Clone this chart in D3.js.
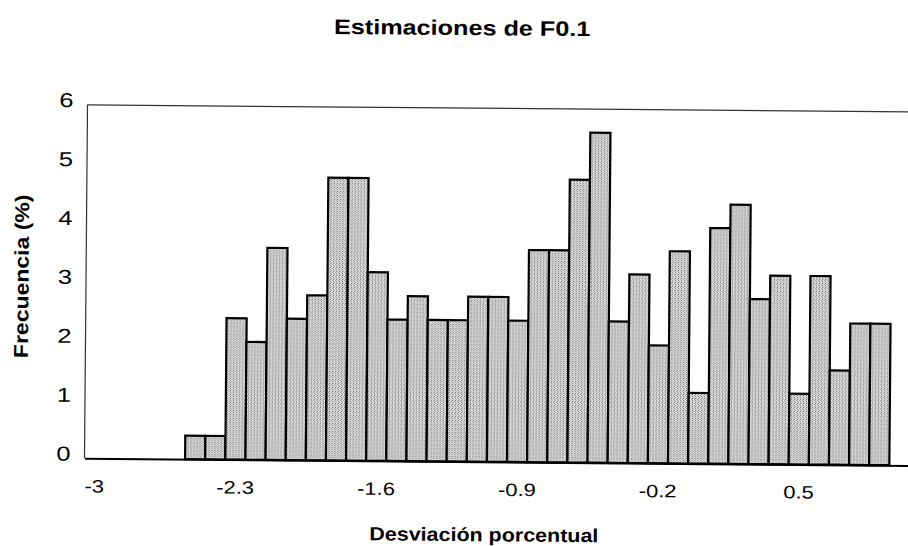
<!DOCTYPE html>
<html><head><meta charset="utf-8">
<script src="https://cdn.jsdelivr.net/npm/d3@7"></script>
<style>body{margin:0;background:#fff}svg{display:block}</style>
</head><body>
<svg id="chart" width="908" height="546"></svg>
<script>
const categories = ["-3","-2.9","-2.8","-2.7","-2.6","-2.5","-2.4","-2.3","-2.2","-2.1","-2","-1.9","-1.8","-1.7","-1.6","-1.5","-1.4","-1.3","-1.2","-1.1","-1","-0.9","-0.8","-0.7","-0.6","-0.5","-0.4","-0.3","-0.2","-0.1","0","0.1","0.2","0.3","0.4","0.5","0.6","0.7","0.8","0.9","1"];
const frequencies = [0,0,0,0,0,0.4,0.4,2.4,2.0,3.6,2.4,2.8,4.8,4.8,3.2,2.4,2.8,2.4,2.4,2.8,2.8,2.4,3.6,3.6,4.8,5.6,2.4,3.2,2.0,3.6,1.2,4.0,4.4,2.8,3.2,1.2,3.2,1.6,2.4,2.4,0];
const xTickLabels = ["-3","-2.3","-1.6","-0.9","-0.2","0.5"];
const yTickValues = [0,1,2,3,4,5,6];
const titleText = "Estimaciones de F0.1";
const xTitle = "Desviación porcentual";
const yTitle = "Frecuencia (%)";

(function () {
const root = d3.select("#chart");
// the scanned original is tilted by about half a degree
const svg = root.append("g").attr("transform", "rotate(0.49, 454, 283)");
const FONT = "'Liberation Sans', Arial, sans-serif";
const pLeft = 86, pRight = 911, pTop = 108, pBottom = 461.5;

const x = d3.scaleBand().domain(categories).range([pLeft, pRight]).padding(0);
const y = d3.scaleLinear().domain([0, 6]).range([pBottom, pTop]);

function stretch(sel, f) {
  sel.each(function () {
    const w = this.getComputedTextLength();
    d3.select(this).attr("textLength", w * f).attr("lengthAdjust", "spacingAndGlyphs");
  });
}

// stipple pattern
const defs = root.append("defs");
const pat = defs.append("pattern").attr("id", "stip").attr("patternUnits", "userSpaceOnUse")
  .attr("width", 3).attr("height", 4);
pat.append("rect").attr("width", 3).attr("height", 4).attr("fill", "#dedede");
[[0,0,"#6a6a6a"],[2,1,"#979797"],[0,2,"#858585"],[1,3,"#aaaaaa"]].forEach(([a,b,c]) =>
  pat.append("rect").attr("x", a).attr("y", b).attr("width", 1).attr("height", 1).attr("fill", c));

// frame lines
svg.append("line").attr("x1", pLeft).attr("x2", pRight).attr("y1", pTop).attr("y2", pTop)
  .attr("stroke", "#333").attr("stroke-width", 1.2);
svg.append("line").attr("x1", pLeft).attr("x2", pLeft).attr("y1", pTop).attr("y2", pBottom)
  .attr("stroke", "#333").attr("stroke-width", 1.2);

// bars
const data = categories.map((c, i) => ({ c, v: frequencies[i] })).filter(d => d.v > 0);
svg.append("g").selectAll("rect").data(data).join("rect")
  .attr("x", d => x(d.c))
  .attr("y", d => y(d.v))
  .attr("width", x.bandwidth())
  .attr("height", d => y(0) - y(d.v))
  .attr("fill", "url(#stip)")
  .attr("stroke", "#000")
  .attr("stroke-width", 2.2);

// x axis
const xAxis = svg.append("g").attr("transform", `translate(0,${pBottom})`)
  .call(d3.axisBottom(x).tickValues(xTickLabels).tickSize(0));
xAxis.select(".domain").attr("stroke", "#000").attr("stroke-width", 2);
xAxis.selectAll("text").attr("y", 34).attr("dy", 0)
  .attr("font-family", FONT).attr("font-size", 18).attr("fill", "#000");
stretch(xAxis.selectAll("text"), 1.22);

// y axis
const yAxis = svg.append("g").attr("transform", `translate(${pLeft},0)`)
  .call(d3.axisLeft(y).tickValues(yTickValues).tickFormat(d3.format("d")).tickSize(0));
yAxis.select(".domain").remove();
yAxis.selectAll("text").attr("x", -14).attr("dy", 2)
  .attr("font-family", FONT).attr("font-size", 20).attr("fill", "#000");
stretch(yAxis.selectAll("text"), 1.28);

// titles
const t = svg.append("text").attr("x", 460).attr("y", 35).attr("text-anchor", "middle")
  .attr("font-family", FONT).attr("font-weight", "bold").attr("font-size", 21).text(titleText);
stretch(t, 1.2);
const xt = svg.append("text").attr("x", 486).attr("y", 541).attr("text-anchor", "middle")
  .attr("font-family", FONT).attr("font-weight", "bold").attr("font-size", 19).text(xTitle);
stretch(xt, 1.13);
const yt = svg.append("text").attr("transform", "translate(28.5,280) rotate(-90)").attr("text-anchor", "middle")
  .attr("font-family", FONT).attr("font-weight", "bold").attr("font-size", 20).text(yTitle);
stretch(yt, 1.15);
})();
</script>
</body></html>
